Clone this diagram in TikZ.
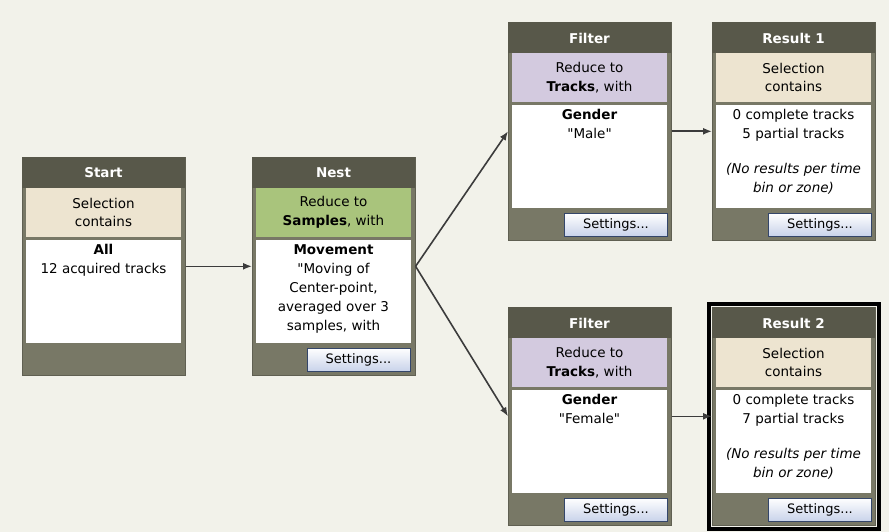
\documentclass[tikz,border=0pt]{standalone}
\usepackage{fontspec}
\setmainfont{DejaVu Sans}[Ligatures=TeXOff]
\usetikzlibrary{arrows.meta,calc}
\newcommand\dq{\symbol{34}}
\definecolor{bgc}{HTML}{F2F2EA}
\definecolor{headc}{HTML}{58584A}
\definecolor{bandc}{HTML}{787866}
\definecolor{beigec}{HTML}{EDE4D0}
\definecolor{greenc}{HTML}{A9C47C}
\definecolor{purplec}{HTML}{D3CADF}
\definecolor{btnc}{HTML}{C9D3EA}
\definecolor{btnb}{HTML}{34466A}
\definecolor{arrc}{HTML}{3C3C3C}
\tikzset{
  panel/.style={anchor=north west,inner sep=0pt,minimum width=163pt,minimum height=218pt,fill=bandc,draw=bandc!80!black,line width=0.6pt},
  titletext/.style={text=white,font=\fontsize{13.5}{16}\selectfont\bfseries,inner sep=0pt},
  midbox/.style={inner sep=0pt,minimum width=155pt,minimum height=49pt,align=center,font=\fontsize{13.5}{18.5}\selectfont},
  whitebox/.style={inner sep=0pt,minimum width=155pt,minimum height=103pt,fill=white},
  bodytext/.style={anchor=north,align=center,inner sep=0pt,font=\fontsize{13.5}{19}\selectfont},
  setbtn/.style={inner sep=0pt,minimum width=103pt,minimum height=23pt,top color=white,bottom color=btnc,draw=btnb,line width=1pt,font=\fontsize{13}{15}\selectfont},
  conn/.style={draw=arrc,line width=1.6pt,-{Latex[length=9pt,width=7pt]}}
}
\begin{document}
\begin{tikzpicture}[x=1pt,y=-1pt]
\fill[bgc] (0,0) rectangle (889,532);
\useasboundingbox (0,0) rectangle (889,532);
% Start
\begin{scope}[shift={(22,157)}]
\node[panel] (start) at (0,0) {};
\fill[headc] (0,0) rectangle (163,31);
\node[titletext] (startT) at (81.5,16) {Start};
\node[midbox,fill=beigec] (startM) at (81.5,55.5) {Selection\\contains};
\node[whitebox] (startW) at (81.5,134.5) {};
\node[bodytext] (startX) at (81.5,87) {\textbf{All}\\12 acquired tracks};
\end{scope}
% Nest
\begin{scope}[shift={(252,157)}]
\node[panel] (nest) at (0,0) {};
\fill[headc] (0,0) rectangle (163,31);
\node[titletext] (nestT) at (81.5,16) {Nest};
\node[midbox,fill=greenc] (nestM) at (81.5,55.5) {Reduce to\\\textbf{Samples}, with};
\node[whitebox] (nestW) at (81.5,134.5) {};
\begin{scope}
\clip (4,83) rectangle (159,186);
\node[bodytext] (nestX) at (81.5,87) {\textbf{Movement}\\\dq Moving of\\Center-point,\\averaged over 3\\samples, with};
\end{scope}
\node[setbtn] (nestS) at (106.5,202.5) {Settings...};
\end{scope}
% Filter 1
\begin{scope}[shift={(508,22)}]
\node[panel] (filt1) at (0,0) {};
\fill[headc] (0,0) rectangle (163,31);
\node[titletext] (filt1T) at (81.5,16) {Filter};
\node[midbox,fill=purplec] (filt1M) at (81.5,55.5) {Reduce to\\\textbf{Tracks}, with};
\node[whitebox] (filt1W) at (81.5,134.5) {};
\node[bodytext] (filt1X) at (81.5,87) {\textbf{Gender}\\\dq Male\dq};
\node[setbtn] (filt1S) at (108,202.5) {Settings...};
\end{scope}
% Result 1
\begin{scope}[shift={(712,22)}]
\node[panel] (res1) at (0,0) {};
\fill[headc] (0,0) rectangle (163,31);
\node[titletext] (res1T) at (81.5,16) {Result 1};
\node[midbox,fill=beigec] (res1M) at (81.5,55.5) {Selection\\contains};
\node[whitebox] (res1W) at (81.5,134.5) {};
\node[bodytext] (res1X) at (81.5,87) {0 complete tracks\\5 partial tracks\\[16pt]\itshape (No results per time\\\itshape bin or zone)};
\node[setbtn] (res1S) at (108,202.5) {Settings...};
\end{scope}
% Filter 2
\begin{scope}[shift={(508,307)}]
\node[panel] (filt2) at (0,0) {};
\fill[headc] (0,0) rectangle (163,31);
\node[titletext] (filt2T) at (81.5,16) {Filter};
\node[midbox,fill=purplec] (filt2M) at (81.5,55.5) {Reduce to\\\textbf{Tracks}, with};
\node[whitebox] (filt2W) at (81.5,134.5) {};
\node[bodytext] (filt2X) at (81.5,87) {\textbf{Gender}\\\dq Female\dq};
\node[setbtn] (filt2S) at (108,202.5) {Settings...};
\end{scope}
% Result 2
\begin{scope}[shift={(712,307)}]
\node[panel] (res2) at (0,0) {};
\fill[headc] (0,0) rectangle (163,31);
\node[titletext] (res2T) at (81.5,16) {Result 2};
\node[midbox,fill=beigec] (res2M) at (81.5,55.5) {Selection\\contains};
\node[whitebox] (res2W) at (81.5,134.5) {};
\node[bodytext] (res2X) at (81.5,87) {0 complete tracks\\7 partial tracks\\[16pt]\itshape (No results per time\\\itshape bin or zone)};
\node[setbtn] (res2S) at (108,202.5) {Settings...};
\end{scope}
\draw[black,line width=4pt] ($(res2.north west)+(-3,-3)$) rectangle ($(res2.south east)+(3,3)$);
% connectors
\draw[conn] (start.east) -- (nest.west);
\draw[conn] (nest.east) -- (filt1.west);
\draw[conn] (nest.east) -- (filt2.west);
\draw[conn] (filt1.east) -- (res1.west);
\draw[conn] (filt2.east) -- (res2.west);
\end{tikzpicture}
\end{document}
